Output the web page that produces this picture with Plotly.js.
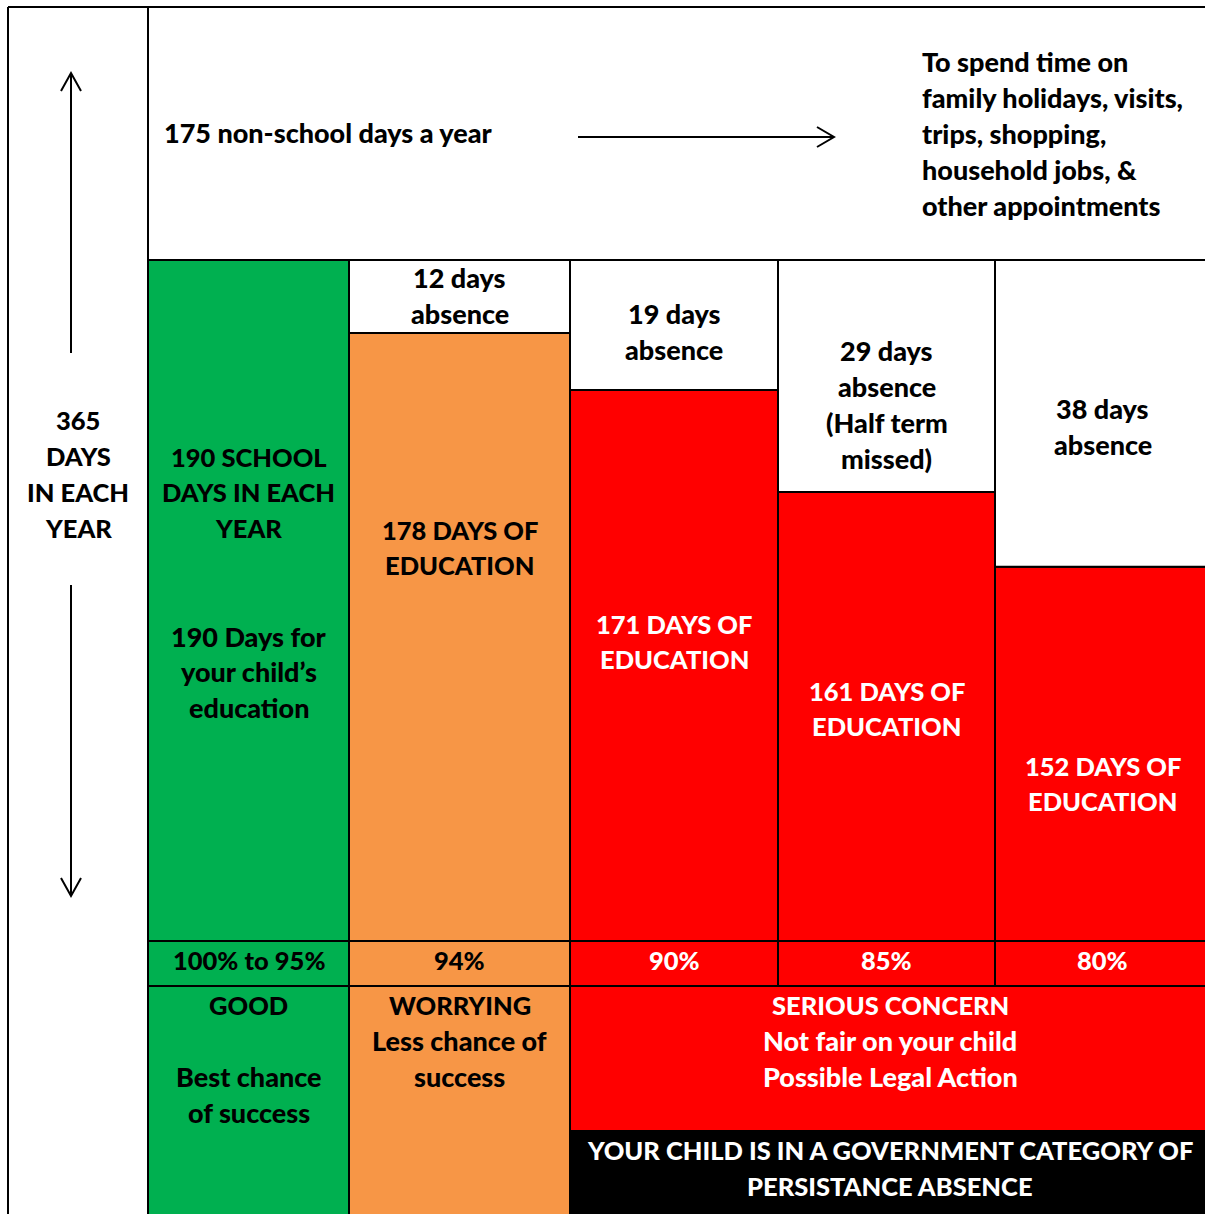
<!DOCTYPE html>
<html><head><meta charset="utf-8">
<script src="https://cdn.plot.ly/plotly-3.0.1.min.js"></script>
<style>html,body{margin:0;padding:0;background:#fff;overflow:hidden}#chart{width:1205px;height:1214px;}</style>
</head><body><div id="chart"></div>
<script>
// ---------------- data ----------------
const categories = ['Good', 'Worrying', 'Serious concern 90%', 'Serious concern 85%', 'Serious concern 80%'];
const educationDays = [190, 178, 171, 161, 152];
const absenceDays = [0, 12, 19, 29, 38];
const attendanceLabels = ['100% to 95%', '94%', '90%', '85%', '80%'];
// height of the coloured part as it is drawn in the picture (the picture is not to scale),
// measured in days of the 190-day column
const drawnEducation = [190, 169.6, 153.7, 125.3, 104.4];
const schoolDays = 190;
const yearDays = 365;
const nonSchoolDays = yearDays - schoolDays;

// ---------------- layout constants ----------------
const W = 1205, H = 1214;
const colEdges = [148, 349, 570, 778, 995, 1210];
const basePx = 941, topPx = 260;
const pxPerDay = (basePx - topPx) / schoolDays;
const Y = p => (basePx - p) / pxPerDay;          // page pixel row -> axis value
const centers = colEdges.slice(0, 5).map((e, i) => (e + colEdges[i + 1]) / 2);
const widths = colEdges.slice(0, 5).map((e, i) => colEdges[i + 1] - e);
const GREEN = '#00B050', ORANGE = '#F79646', RED = '#FF0000';
const colColors = [GREEN, ORANGE, RED, RED, RED];
const FONT = 'Lato, "Open Sans", sans-serif';
const LW = 2;
const border = {color: '#000', width: LW};
const TEXT_SHIFT = -1.5;

// ---------------- traces ----------------
const traces = [];
// coloured education bars
traces.push({type: 'bar', x: centers, y: drawnEducation, base: 0, width: widths,
  marker: {color: colColors, line: border}, hoverinfo: 'skip', name: 'Days of education'});
// white absence bars stacked on top
traces.push({type: 'bar', x: centers,
  y: drawnEducation.map((d, i) => absenceDays[i] ? schoolDays - d : null),
  base: drawnEducation, width: widths,
  marker: {color: '#fff', line: border}, hoverinfo: 'skip', name: 'Days of absence'});
// attendance % row
traces.push({type: 'bar', x: centers, y: centers.map(() => Y(941) - Y(986)),
  base: centers.map(() => Y(986)), width: widths,
  marker: {color: colColors, line: border}, hoverinfo: 'skip'});
// status cells (good / worrying)
traces.push({type: 'bar', x: centers.slice(0, 2), y: [0, 1].map(() => Y(986) - Y(1240)),
  base: [Y(1240), Y(1240)], width: widths.slice(0, 2),
  marker: {color: colColors.slice(0, 2), line: border}, hoverinfo: 'skip'});
// merged serious concern cell
const mergedC = (colEdges[2] + colEdges[5]) / 2, mergedW = colEdges[5] - colEdges[2];
traces.push({type: 'bar', x: [mergedC], y: [Y(986) - Y(1131)], base: [Y(1131)], width: [mergedW],
  marker: {color: RED, line: border}, hoverinfo: 'skip'});
// black persistent absence banner
traces.push({type: 'bar', x: [mergedC], y: [Y(1131) - Y(1240)], base: [Y(1240)], width: [mergedW],
  marker: {color: '#000', line: border}, hoverinfo: 'skip'});

// ---------------- text ----------------
const annotations = [];
function lines(x, arr, y0, color, opts) {
  opts = opts || {};
  const step = opts.step || 36;
  arr.forEach((t, i) => {
    if (t === '') return;
    const size = /%/.test(t) ? 25.5 : (/[a-z]/.test(t) ? 27 : 25.5);
    annotations.push({x: x, y: Y(y0 + i * step + TEXT_SHIFT), xref: 'x', yref: 'y', text: t, showarrow: false,
      xanchor: opts.anchor || 'center', yanchor: 'middle',
      font: {family: FONT, size: size, color: color, weight: 900}});
  });
}
lines(162, [nonSchoolDays + ' non-school days a year'], 134, '#000', {anchor: 'left'});
lines(920, ['To spend time on', 'family holidays, visits,', 'trips, shopping,', 'household jobs, &', 'other appointments'], 63, '#000', {anchor: 'left'});
lines(78, [String(yearDays), 'DAYS', 'IN EACH', 'YEAR'], 421, '#000');
lines(centers[0], [schoolDays + ' SCHOOL', 'DAYS IN EACH', 'YEAR', '', '', schoolDays + ' Days for', 'your child\u2019s', 'education'], 458, '#000', {step: 35.9});
lines(centers[1], [absenceDays[1] + ' days', 'absence'], 279, '#000');
lines(centers[2], [absenceDays[2] + ' days', 'absence'], 315, '#000');
lines(centers[3], [absenceDays[3] + ' days', 'absence', '(Half term', 'missed)'], 352, '#000');
lines(centers[4], [absenceDays[4] + ' days', 'absence'], 410, '#000');
const eduY = [null, 531, 625, 692, 767];
for (let i = 1; i < 5; i++) {
  lines(centers[i], [educationDays[i] + ' DAYS OF', 'EDUCATION'], eduY[i], i === 1 ? '#000' : '#fff', {step: 35.5});
}
attendanceLabels.forEach((t, i) => lines(centers[i], [t], 961, i < 2 ? '#000' : '#fff'));
lines(centers[0], ['GOOD', '', 'Best chance', 'of success'], 1006, '#000');
lines(centers[1], ['WORRYING', 'Less chance of', 'success'], 1006, '#000');
lines(mergedC, ['SERIOUS CONCERN', 'Not fair on your child', 'Possible Legal Action'], 1006, '#fff');
lines(mergedC, ['YOUR CHILD IS IN A GOVERNMENT CATEGORY OF', 'PERSISTANCE ABSENCE'], 1151, '#fff');

// ---------------- frame lines and arrows ----------------
const ln = {color: '#000', width: LW};
const shapes = [
  {type: 'line', xref: 'x', yref: 'y', x0: 8, x1: 8, y0: Y(7), y1: Y(1240), line: ln},
  {type: 'line', xref: 'x', yref: 'y', x0: 8, x1: 1240, y0: Y(7), y1: Y(7), line: ln},
  {type: 'line', xref: 'x', yref: 'y', x0: 148, x1: 148, y0: Y(7), y1: Y(260), line: ln},
  {type: 'line', xref: 'x', yref: 'y', x0: 148, x1: 1240, y0: Y(260), y1: Y(260), line: ln},
];
const aw = {color: '#000', width: 2};
function path(pts) { return 'M' + pts.map(p => p[0] + ',' + Y(p[1])).join(' L'); }
shapes.push({type: 'path', xref: 'x', yref: 'y', path: path([[71, 353], [71, 73]]), line: aw});
shapes.push({type: 'path', xref: 'x', yref: 'y', path: path([[61, 91], [71, 73], [81, 91]]), line: aw});
shapes.push({type: 'path', xref: 'x', yref: 'y', path: path([[71, 585], [71, 896]]), line: aw});
shapes.push({type: 'path', xref: 'x', yref: 'y', path: path([[61, 878], [71, 896], [81, 878]]), line: aw});
shapes.push({type: 'path', xref: 'x', yref: 'y', path: path([[578, 137], [834, 137]]), line: aw});
shapes.push({type: 'path', xref: 'x', yref: 'y', path: path([[817, 127], [834, 137], [817, 147]]), line: aw});

const layout = {
  width: W, height: H, margin: {l: 0, r: 0, t: 0, b: 0},
  paper_bgcolor: '#fff', plot_bgcolor: '#fff',
  barmode: 'overlay', showlegend: false,
  xaxis: {range: [0, W], visible: false, fixedrange: true},
  yaxis: {range: [Y(H), Y(0)], visible: false, fixedrange: true},
  annotations: annotations, shapes: shapes
};
Plotly.newPlot('chart', traces, layout, {staticPlot: true, displayModeBar: false});
</script></body></html>
